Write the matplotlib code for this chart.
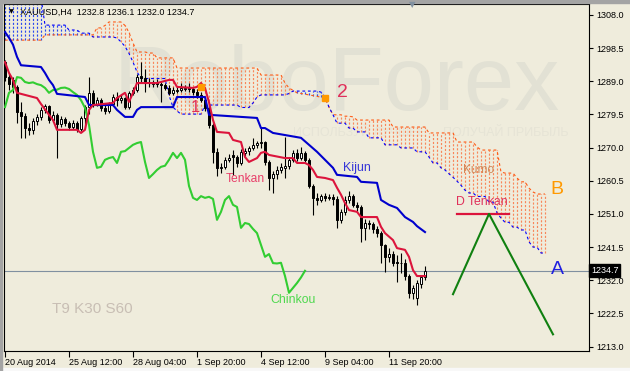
import numpy as np
import matplotlib.pyplot as plt
from matplotlib.patches import Rectangle

plt.rcParams['font.family'] = ['Liberation Sans', 'DejaVu Sans']

# XAUUSD H4 bars, first bar 20 Aug 2014 20:00
opens = [1294.5, 1290.2, 1289.5, 1287.5, 1280.2, 1279.1, 1275.6, 1275.1, 1277.6, 1278.8,
         1280.8, 1281.9, 1277.9, 1279.4, 1276.8, 1278.2, 1277.1, 1275.9, 1277.1, 1275.3,
         1278.5, 1281.6, 1285.7, 1282.5, 1283.6, 1281.4, 1280.5, 1282.5, 1284.5, 1283.6,
         1284.2, 1281.6, 1285.7, 1286.5, 1290.6, 1290.0, 1288.8, 1288.3, 1288.7, 1288.2,
         1287.9, 1287.1, 1285.7, 1286.3, 1286.6, 1286.9, 1287.2, 1286.8, 1285.9, 1285.1,
         1283.6, 1281.4, 1276.5, 1268.8, 1264.2, 1264.5, 1266.5, 1267.9, 1267.3, 1265.6,
         1268.5, 1269.0, 1269.9, 1270.8, 1271.3, 1271.6, 1265.9, 1261.3, 1262.4, 1263.6,
         1264.2, 1264.8, 1266.5, 1268.5, 1267.0, 1268.5, 1266.5, 1259.0, 1255.6, 1255.0,
         1256.1, 1255.6, 1255.9, 1255.3, 1249.3, 1251.6, 1255.0, 1256.1, 1253.6, 1253.0,
         1247.0, 1248.4, 1248.1, 1246.7, 1245.5, 1242.1, 1238.7, 1239.5, 1237.2, 1236.8,
         1237.0, 1233.2, 1228.4, 1226.9, 1230.8, 1232.8]
highs = [1295.0, 1291.5, 1290.3, 1288.0, 1283.0, 1280.0, 1277.0, 1278.5, 1279.5, 1281.5,
         1282.6, 1282.3, 1280.5, 1279.8, 1279.0, 1278.8, 1277.6, 1277.8, 1277.5, 1279.0,
         1282.3, 1290.2, 1286.5, 1284.5, 1284.2, 1282.5, 1283.2, 1285.3, 1286.0, 1285.0,
         1284.6, 1286.2, 1287.5, 1291.0, 1294.5, 1292.5, 1290.0, 1289.3, 1289.6, 1288.9,
         1288.6, 1287.8, 1287.3, 1287.5, 1288.4, 1288.0, 1288.5, 1287.5, 1286.8, 1286.0,
         1284.2, 1281.8, 1277.0, 1270.0, 1265.5, 1267.2, 1268.2, 1269.3, 1268.0, 1269.5,
         1270.0, 1270.6, 1272.8, 1272.0, 1275.9, 1272.0, 1266.5, 1263.2, 1264.6, 1265.5,
         1273.0, 1267.3, 1269.3, 1269.5, 1270.3, 1269.0, 1267.0, 1259.6, 1257.0, 1256.8,
         1257.0, 1256.6, 1256.8, 1256.0, 1252.5, 1256.0, 1257.5, 1256.8, 1254.5, 1253.5,
         1249.5, 1249.2, 1248.8, 1247.5, 1246.0, 1242.5, 1241.2, 1240.5, 1239.2, 1239.9,
         1238.0, 1233.8, 1230.5, 1232.0, 1233.6, 1236.1]
lows = [1289.0, 1286.5, 1285.7, 1277.0, 1272.8, 1272.8, 1273.5, 1274.0, 1276.5, 1278.0,
        1280.0, 1277.0, 1277.3, 1267.0, 1276.0, 1276.2, 1275.0, 1275.3, 1274.6, 1274.8,
        1276.0, 1279.5, 1281.5, 1281.8, 1280.5, 1279.6, 1280.0, 1282.0, 1281.8, 1282.9,
        1281.0, 1281.2, 1285.0, 1286.0, 1288.8, 1286.0, 1287.3, 1287.5, 1287.4, 1283.0,
        1286.4, 1285.0, 1285.2, 1285.6, 1285.9, 1286.2, 1286.0, 1285.2, 1284.3, 1283.0,
        1280.5, 1275.5, 1265.6, 1262.0, 1262.8, 1263.8, 1265.8, 1262.2, 1264.5, 1265.0,
        1267.5, 1268.0, 1269.3, 1270.0, 1270.0, 1265.0, 1257.9, 1257.0, 1261.0, 1262.6,
        1261.3, 1264.0, 1265.9, 1266.3, 1266.4, 1265.8, 1258.4, 1250.7, 1253.6, 1254.3,
        1254.8, 1254.9, 1253.5, 1247.0, 1248.5, 1250.8, 1254.2, 1252.9, 1251.8, 1243.0,
        1243.5, 1246.8, 1245.6, 1244.5, 1237.0, 1234.4, 1237.2, 1236.0, 1231.5, 1234.0,
        1232.2, 1227.0, 1226.5, 1224.9, 1229.8, 1232.0]
closes = [1290.2, 1288.2, 1287.5, 1280.2, 1279.1, 1275.6, 1275.1, 1277.6, 1278.8, 1280.8,
          1281.9, 1277.9, 1279.4, 1276.8, 1278.2, 1277.1, 1275.9, 1277.1, 1275.3, 1278.5,
          1281.6, 1285.7, 1282.5, 1283.6, 1281.4, 1280.5, 1282.5, 1284.5, 1283.6, 1284.2,
          1281.6, 1285.7, 1286.5, 1290.2, 1290.0, 1288.8, 1288.5, 1288.7, 1288.2, 1287.9,
          1287.1, 1285.7, 1286.5, 1286.6, 1287.1, 1287.2, 1286.8, 1285.9, 1285.1, 1283.6,
          1281.4, 1276.5, 1268.8, 1264.2, 1264.5, 1266.5, 1267.0, 1267.3, 1265.6, 1268.8,
          1269.0, 1269.9, 1270.8, 1271.3, 1271.6, 1265.9, 1261.3, 1262.4, 1263.6, 1264.5,
          1264.8, 1266.5, 1268.5, 1267.0, 1268.5, 1266.5, 1259.0, 1255.6, 1255.0, 1256.1,
          1255.6, 1255.9, 1255.3, 1249.3, 1251.6, 1255.0, 1256.1, 1253.6, 1253.0, 1247.0,
          1248.4, 1248.1, 1246.7, 1245.5, 1242.1, 1238.7, 1239.5, 1236.9, 1236.8, 1237.0,
          1233.2, 1228.4, 1229.8, 1231.2, 1232.8, 1234.7]

# Tenkan / Kijun (turning points: bar index, price)
tenkan_bar = [0, 1, 2, 3, 5, 8, 9, 11, 12, 13, 18, 19, 20, 21, 22, 27, 28, 30, 31, 32,
              33, 35, 38, 39, 41, 42, 43, 47, 48, 49, 50, 51, 52, 53, 56, 57, 59, 60, 61, 63,
              64, 65, 66, 70, 72, 73, 75, 76, 77, 78, 80, 82, 83, 84, 85, 86, 88, 89, 93, 94,
              95, 96, 97, 98, 100, 101, 102, 103, 105]
tenkan_val = [1294.5, 1291.4, 1289.4, 1285.7, 1285.1, 1284.2, 1282.5, 1279.4, 1277.9, 1275.1,
              1275.1, 1274.2, 1275.1, 1280.8, 1282.2, 1282.8, 1284.2, 1285.7, 1283.1, 1285.7,
              1288.5, 1288.5, 1288.5, 1288.8, 1289.4, 1289.4, 1287.4, 1287.1, 1287.4, 1288.5,
              1287.1, 1283.0, 1277.9, 1274.5, 1274.2, 1272.2, 1271.6, 1267.3, 1265.9, 1267.0,
              1268.5, 1268.8, 1267.9, 1267.0, 1267.0, 1265.6, 1265.6, 1265.0, 1263.6, 1261.6,
              1261.3, 1260.7, 1258.5, 1256.5, 1254.1, 1252.1, 1251.6, 1250.1, 1250.1, 1247.3,
              1245.5, 1244.5, 1243.5, 1241.2, 1240.7, 1238.7, 1234.9, 1233.2, 1233.2]
kijun_bar = [0, 1, 2, 3, 4, 9, 10, 11, 12, 13, 20, 21, 27, 28, 30, 32, 33, 34, 42, 43,
             50, 51, 63, 64, 65, 67, 70, 74, 76, 78, 80, 82, 83, 88, 89, 93, 94, 96, 98, 100,
             102, 103, 105]
kijun_val = [1303.1, 1301.5, 1299.5, 1296.0, 1293.6, 1293.1, 1291.4, 1289.4, 1287.9, 1285.4,
             1284.5, 1282.2, 1282.2, 1280.8, 1278.8, 1278.8, 1280.8, 1281.6, 1281.6, 1284.5,
             1284.5, 1279.4, 1278.5, 1275.6, 1275.6, 1274.2, 1273.6, 1272.8, 1270.8, 1268.8,
             1266.5, 1264.2, 1262.2, 1261.6, 1260.2, 1259.9, 1255.0, 1253.6, 1252.7, 1250.1,
             1248.7, 1247.5, 1245.8]

# Senkou spans, one value per bar (0..135); span B is above the chart on the left
span_a = ([1300.8] * 10 + [1302.3] * 13 + [1304.3, 1304.3, 1305.0] + [1306.0] * 4 +
          [1305.0, 1303.0, 1300.0] + [1297.4] * 3 + [1297.1] * 2 + [1295.7] * 5 +
          [1292.8] * 21 + [1290.8] * 6 +
          [1288.5, 1287.1, 1286.4, 1285.7, 1285.5, 1285.3, 1285.1, 1284.9, 1284.7, 1284.4, 1284.2] +
          [1281.6] + [1279.4] * 3 + [1279.0] * 2 + [1278.8] + [1277.9] * 9 + [1275.9] * 9 +
          [1274.2] * 7 + [1271.6] * 5 + [1270.2] + [1269.3] * 5 + [1263.0] + [1262.7] * 3 +
          [1261.3] + [1260.2] * 2 + [1258.4, 1257.3] + [1256.7] * 3)
span_b = ([1313.0] * 10 + [1305.1] * 6 + [1303.7] * 3 + [1302.8] * 3 + [1301.7] * 6 +
          [1301.4, 1300.3, 1299.0, 1297.0, 1294.5, 1291.7] + [1289.8] * 7 +
          [1285.0, 1281.6, 1280.5] + [1279.6] * 6 + [1282.2] * 9 + [1281.5] * 3 +
          [1282.8, 1284.5] + [1285.1] * 7 + [1285.5] + [1286.2] * 7 +
          [1285.9, 1284.5, 1281.6, 1279.4] + [1277.0] * 3 + [1275.6] * 2 + [1274.5] * 3 +
          [1272.8] * 4 + [1270.8] * 4 + [1269.9] * 4 + [1268.8] * 3 + [1267.3] +
          [1265.6] * 2 + [1264.2, 1263.6, 1262.5, 1261.5, 1260.4, 1259.2, 1257.8] +
          [1257.0] * 2 + [1256.0] * 3 + [1254.4] * 2 + [1251.3, 1249.8] + [1248.6] * 2 +
          [1247.2] * 2 + [1246.4] * 2 + [1243.0] + [1241.5] * 2 + [1239.8] * 2)

chinkou_shift = 30
last_price = 1234.7

signal_bar = [49, 80]
signal_val = [1287.4, 1284.2]
dtenkan_bar = [113, 126]
dtenkan_val = [1251.0, 1251.0]
proj_bar = [112, 121, 137]
proj_val = [1228.0, 1251.0, 1216.5]

time_ticks = [0, 16, 32, 48, 64, 80, 96]
time_labels = ['20 Aug 2014', '25 Aug 12:00', '28 Aug 04:00', '1 Sep 20:00',
               '4 Sep 12:00', '9 Sep 04:00', '11 Sep 20:00']
price_ticks = [1308.0, 1298.5, 1289.0, 1279.5, 1270.0, 1260.5, 1251.0, 1241.5,
               1232.0, 1222.5, 1213.0]

BG = '#efecdc'
fig = plt.figure(figsize=(6.3, 3.71), dpi=100, facecolor=BG)
ax = fig.add_axes([4 / 630, 20 / 371, 585 / 630, 347 / 371], facecolor=BG)
ax.set_xlim(-0.25, 146)
ax.set_ylim(1211.72, 1311.15)

# watermark
ax.text(83, 1280.8, 'RoboForex', fontsize=65, color='#e2e1d4', ha='center',
        va='baseline', zorder=0.5)
ax.text(72, 1274.2, 'ИСПОЛЬЗУЙ ЛУЧШЕЕ', fontsize=9, color='#e6e4d6',
        ha='left', va='center', zorder=0.5)
ax.text(109.5, 1274.2, 'ПОЛУЧАЙ ПРИБЫЛЬ', fontsize=9, color='#e6e4d6',
        ha='left', va='center', zorder=0.5)

# kumo hatch: one dotted stroke per bar between the spans
sa = np.array(span_a)
sb = np.array(span_b)
kb = np.arange(len(sa))
up = sa >= sb
ax.vlines(kb[up], sb[up], sa[up], colors='#f8875a', linewidth=0.85,
          linestyles=(0, (1.8, 1.5)), zorder=1)
ax.vlines(kb[~up], sa[~up], sb[~up], colors='#2a48f0', linewidth=0.85,
          linestyles=(0, (1.8, 1.5)), zorder=1)
ax.plot(kb, sa, color='#ff5a14', lw=0.8, ls=(0, (2.5, 2.5)), zorder=2)
ax.plot(kb, sb, color='#0000ff', lw=0.8, ls=(0, (2.5, 2.5)), zorder=2)

# candles
o = np.array(opens)
h = np.array(highs)
l = np.array(lows)
c = np.array(closes)
idx = np.arange(len(c))
bull = c >= o
ax.vlines(idx, l, h, colors='black', linewidth=0.8, zorder=3)
ax.bar(idx[bull], (c - o)[bull], bottom=o[bull], width=0.62, color='white',
       edgecolor='black', linewidth=0.7, zorder=4)
ax.bar(idx[~bull], (o - c)[~bull], bottom=c[~bull], width=0.62, color='black',
       edgecolor='black', linewidth=0.7, zorder=4)

# ichimoku lines (chinkou = close shifted back)
ax.plot(idx[chinkou_shift:] - chinkou_shift, c[chinkou_shift:], color='#32cd32',
        lw=1.5, zorder=5)
ax.plot(kijun_bar, kijun_val, color='#0000cd', lw=1.5, zorder=5)
ax.plot(tenkan_bar, tenkan_val, color='#dc143c', lw=1.5, zorder=6)

ax.axhline(last_price, color='#8090a0', lw=0.8, zorder=2.5)

ax.plot(signal_bar, signal_val, 's', color='#ff9900', ms=4, zorder=7)
ax.plot(dtenkan_bar, dtenkan_val, color='#dc143c', lw=1.6, zorder=6)
ax.plot(proj_bar, proj_val, color='#108010', lw=1.5, zorder=6)

# labels
ax.text(88, 1264.2, 'Kijun', color='#3636d8', fontsize=9, ha='center', va='center', zorder=8)
ax.text(60, 1261.0, 'Tenkan', color='#e8406a', fontsize=8.7, ha='center', va='center', zorder=8)
ax.text(72, 1226.4, 'Chinkou', color='#4ed84e', fontsize=8.8, ha='center', va='center', zorder=8)
ax.text(118.3, 1263.6, 'Kumo', color='#d08a5a', fontsize=8.6, ha='center', va='center', zorder=8)
ax.text(119.2, 1254.4, 'D Tenkan', color='#e0305a', fontsize=8.8, ha='center', va='center', zorder=8)
ax.text(47.5, 1281.4, '1', color='#e0305a', fontsize=12, ha='center', va='center', zorder=8)
ax.text(84.3, 1285.9, '2', color='#e0305a', fontsize=14, ha='center', va='center', zorder=8)
ax.text(138, 1257.9, 'B', color='#ff9900', fontsize=14, ha='center', va='center', zorder=8)
ax.text(138, 1235.2, 'A', color='#2020e0', fontsize=14, ha='center', va='center', zorder=8)
ax.text(21.75, 1223.8, 'T9 K30 S60', color='#c8beb4', fontsize=11, ha='center',
        va='center', zorder=8)

# axes styling
for s in ax.spines.values():
    s.set_color('black')
    s.set_linewidth(0.8)
ax.yaxis.tick_right()
ax.set_yticks(price_ticks)
ax.set_yticklabels([f'{v:.1f}' for v in price_ticks])
ax.set_xticks(time_ticks)
ax.set_xticklabels(time_labels, ha='left')
ax.tick_params(axis='y', direction='out', length=3, width=0.8, pad=2, labelsize=6.5)
ax.tick_params(axis='x', direction='out', length=4, width=0.8, pad=1, labelsize=6.5)

ax.text(1 + 2 / 585, last_price, '1234.7', transform=ax.get_yaxis_transform(),
        color='white', fontsize=6.5, ha='left', va='center', zorder=9,
        bbox=dict(boxstyle='square,pad=0.2', fc='black', ec='black'), clip_on=False)

fig.text(20 / 630, 1 - 12 / 371, 'XAUUSD,H4  1232.8 1236.1 1232.0 1234.7',
         fontsize=6.5, color='black', ha='left', va='center')
fig.text(11 / 630, 1 - 12 / 371, '▼', fontsize=4.5, color='black', ha='center',
         va='center', family='DejaVu Sans')

fig.patches.append(Rectangle((0, 1 - 3 / 371), 1, 3 / 371, transform=fig.transFigure,
                             color='#a4a4a4', zorder=0))
fig.patches.append(Rectangle((0, 0), 1, 3 / 371, transform=fig.transFigure,
                             color='#f8f8f8', zorder=0))
fig.patches.append(Rectangle((0, 0), 1.5 / 630, 1, transform=fig.transFigure,
                             color='#a4a4a4', zorder=0))
fig.text(412 / 630, 1 - 5 / 371, '▼', fontsize=6, color='#8090a0', ha='center',
         va='center', family='DejaVu Sans')

fig.savefig('out.png', dpi=100, facecolor=BG)
